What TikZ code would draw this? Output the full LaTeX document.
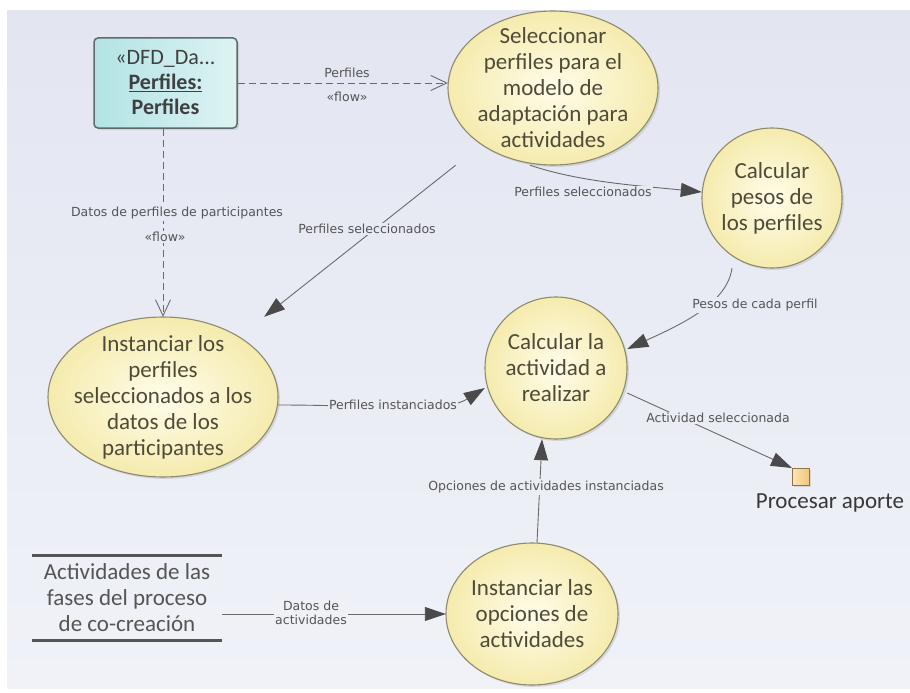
\documentclass[tikz,border=0pt]{standalone}
\usepackage{fontspec}
\setmainfont{Carlito}
\newfontfamily\labfont{DejaVu Sans}
\usetikzlibrary{arrows.meta,shapes.geometric,shadows}
\definecolor{bgtop}{HTML}{E3E6F1}
\definecolor{bgbot}{HTML}{F0F2F8}
\definecolor{yin}{HTML}{FFFDEA}
\definecolor{yout}{HTML}{F5EBAE}
\definecolor{yborder}{HTML}{8E8A6C}
\definecolor{ptextc}{HTML}{4F4B38}
\definecolor{labc}{HTML}{555555}
\definecolor{linec}{HTML}{6A6A6A}
\definecolor{arrc}{HTML}{4A4A4A}
\definecolor{cyanl}{HTML}{B3E3E4}
\definecolor{cyanr}{HTML}{DDF3F3}
\definecolor{boxborder}{HTML}{5E6B6B}
\definecolor{sqfilll}{HTML}{FBE4B4}
\definecolor{sqfillr}{HTML}{F3C676}
\definecolor{sqborder}{HTML}{8C7445}
\definecolor{storec}{HTML}{555555}
\begin{document}
\begin{tikzpicture}[x=1pt,y=-1pt,
  procshape/.style={ellipse, draw=yborder, line width=1.1pt, inner color=yin, outer color=yout, inner sep=0pt,
    drop shadow={shadow xshift=2pt, shadow yshift=-2pt, opacity=0.22}},
  proctext/.style={rectangle, inner sep=0pt, align=center, text=ptextc, font=\fontsize{23}{26}\selectfont},
  lab/.style={font=\labfont\fontsize{12.5}{14}\selectfont, text=labc, inner sep=1.5pt, align=center},
  flow/.style={draw=linec, line width=0.9pt},
  dflow/.style={draw=linec, line width=0.9pt, dash pattern=on 7pt off 4pt},
  fa/.style={-{Triangle[length=21pt,width=14pt,color=arrc]}},
  oa/.style={-{Straight Barb[length=16pt,width=15pt,color=linec]}}
]
\useasboundingbox (0,0) rectangle (910,693);
\fill[white] (0,0) rectangle (910,693);
\shade[top color=bgtop, bottom color=bgbot] (7,11) rectangle (910,688);

% data object
\node[draw=boxborder, line width=1.5pt, rounded corners=4pt, left color=cyanl, right color=cyanr,
  minimum width=143pt, minimum height=90pt, inner sep=0pt, align=center,
  font=\fontsize{22}{25}\selectfont, text=black!75,
  drop shadow={shadow xshift=2pt, shadow yshift=-2pt, opacity=0.22}] (box) at (165.5,83)
  {«DFD\_Da...\\\textbf{\underline{Perfiles:}}\\\textbf{Perfiles}};

% processes (shape + text box)
\node[procshape, minimum width=210pt, minimum height=154pt] (selE) at (553,88) {};
\node[proctext, minimum width=210pt, minimum height=154pt] (sel) at (selE)
  {Seleccionar\\perfiles para el\\modelo de\\adaptación para\\actividades};
\node[procshape, minimum width=140pt, minimum height=140pt] (pesosE) at (772,198) {};
\node[proctext, minimum width=140pt, minimum height=140pt] (pesos) at (pesosE)
  {Calcular\\pesos de\\los perfiles};
\node[procshape, minimum width=230pt, minimum height=160pt] (instE) at (163,397) {};
\node[proctext, minimum width=230pt, minimum height=160pt] (inst) at (instE)
  {Instanciar los\\perfiles\\seleccionados a los\\datos de los\\participantes};
\node[procshape, minimum width=142pt, minimum height=142pt] (calcE) at (556,368) {};
\node[proctext, minimum width=142pt, minimum height=142pt] (calc) at (calcE)
  {Calcular la\\actividad a\\realizar};
\node[procshape, minimum width=172pt, minimum height=142pt] (opcE) at (532,614) {};
\node[proctext, minimum width=172pt, minimum height=142pt] (opc) at (opcE)
  {Instanciar las\\opciones de\\actividades};

% data store
\node[proctext, text=storec, minimum width=190pt, minimum height=84pt] (store) at (127,598)
  {Actividades de las\\fases del proceso\\de co-creación};
\draw[storec, line width=3pt] (store.north west) -- (store.north east);
\draw[storec, line width=3pt] (store.south west) -- (store.south east);

% activity final / port
\node[draw=sqborder, line width=1pt, left color=sqfilll, right color=sqfillr, minimum size=17pt, inner sep=0pt,
  drop shadow={shadow xshift=1.5pt, shadow yshift=-1.5pt, opacity=0.22}] (sq) at (801,477) {};
\node[font=\fontsize{23}{26}\selectfont, text=black!78, inner sep=0pt] (sqlab) at (830,503) {Procesar aporte};

% connectors
\draw[dflow, oa] (box.east) -- (box.east -| sel.west);
\draw[dflow, oa] (inst.north |- box.south) -- (inst.north);
\draw[flow, fa] (sel) -- (inst);
\draw[flow, fa] ([xshift=-23pt]sel.south) .. controls +(50,17) and +(-60,-6) .. ([yshift=6pt]pesos.west);
\draw[flow, fa] ([xshift=-40pt]pesos.south) .. controls +(-5,35) and +(55,-25) .. ([yshift=19pt]calc.east);
\draw[flow, fa] ([yshift=-8pt]inst.east) .. controls +(100,0) and +(-40,25) .. ([yshift=-20pt]calc.west);
\draw[flow, fa] ([xshift=5pt]opc.north) -- ([xshift=-14pt]calc.south);
\draw[flow, fa] ([yshift=-25pt]calc.east) -- (sq.north west);
\draw[flow, fa] (opc.west -| store.east) -- (opc.west);

% labels
\node[lab, fill=bgbot!11!bgtop] (l1) at (347,73) {Perfiles};
\node[lab, fill=bgbot!13!bgtop] (l2) at (347,97) {«flow»};
\node[lab, fill=bgbot!30!bgtop] (l3) at (177,213) {Datos de perfiles de participantes};
\node[lab, fill=bgbot!33!bgtop] (l4) at (165,237) {«flow»};
\node[lab, fill=bgbot!32!bgtop] (l5) at (367,229) {Perfiles seleccionados};
\node[lab, fill=bgbot!27!bgtop] (l6) at (583,192) {Perfiles seleccionados};
\node[lab, fill=bgbot!43!bgtop] (l7) at (755,305) {Pesos de cada perfil};
\node[lab, fill=bgbot!58!bgtop] (l8) at (393,405) {Perfiles instanciados};
\node[lab, fill=bgbot!70!bgtop] (l9) at (546,487) {Opciones de actividades instanciadas};
\node[lab, fill=bgbot!60!bgtop] (l10) at (718,418) {Actividad seleccionada};
\node[lab, fill=bgbot!89!bgtop] (l11) at (311,613) {Datos de\\actividades};
\end{tikzpicture}
\end{document}
